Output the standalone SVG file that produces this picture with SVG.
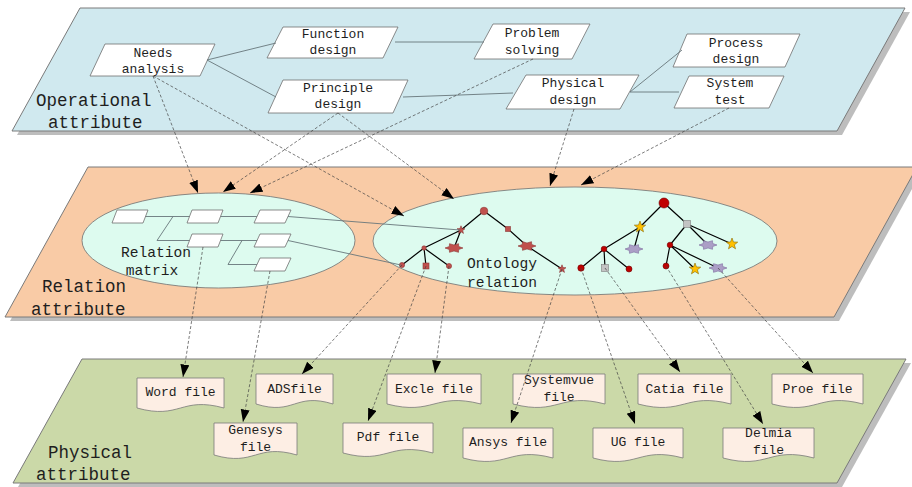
<svg xmlns="http://www.w3.org/2000/svg" xmlns:xlink="http://www.w3.org/1999/xlink" width="912" height="487" viewBox="0 0 912 487">
  <style>
    .shadow { fill: #bdbdbd; }
    .plane { stroke: #7a7a7a; stroke-width: 1; }
    .box { fill: #ffffff; stroke: #6f6f6f; stroke-width: 0.8; }
    .doc { fill: #fdeee4; stroke: #7a7a7a; stroke-width: 0.8; }
    .oval { fill: #ddfbef; stroke: #6f6f6f; stroke-width: 0.8; }
    text { font-family: "Liberation Mono", "DejaVu Sans Mono", monospace; fill: #1e1e1e; }
    .lbl { font-size: 13px; text-anchor: middle; }
    .mid { font-size: 14.6px; text-anchor: middle; }
    .layer { font-size: 17.5px; }
    .link { fill: none; stroke: #68767b; stroke-width: 0.9; }
    .dash { fill: none; stroke: #444; stroke-width: 0.7; stroke-dasharray: 3 2; marker-end: url(#arr); }
    .edge { fill: none; stroke: #000; stroke-width: 1.2; }
    .red1 { fill: #c0504d; stroke: #8c3836; stroke-width: 0.6; }
    .red2 { fill: #c00000; stroke: #6e0000; stroke-width: 0.6; }
    .gold { fill: #ffc000; stroke: #8a6a00; stroke-width: 0.6; }
    .grey { fill: #c3c3c3; stroke: #7f7f7f; stroke-width: 0.6; }
    .lilac { fill: #ab9ec6; stroke: #7d6ca0; stroke-width: 0.6; }
  </style>
  <defs>
    <marker id="arr" markerUnits="userSpaceOnUse" markerWidth="13" markerHeight="10" refX="12.5" refY="4.5" orient="auto">
      <path d="M0,0 L12.5,4.5 L0,9 Z" fill="#000"/>
    </marker>
    <path id="star5" d="M0,-6 L1.47,-2.02 L5.71,-1.85 L2.38,0.77 L3.53,4.85 L0,2.5 L-3.53,4.85 L-2.38,0.77 L-5.71,-1.85 L-1.47,-2.02 Z"/>
    <path id="star6" d="M9,0 L4.68,1.5 L4.5,4.33 L0,3 L-4.5,4.33 L-4.68,1.5 L-9,0 L-4.68,-1.5 L-4.5,-4.33 L0,-3 L4.5,-4.33 L4.68,-1.5 Z"/>
    <path id="star5s" d="M0,-4.2 L1.03,-1.41 L4,-1.3 L1.67,0.54 L2.47,3.4 L0,1.75 L-2.47,3.4 L-1.67,0.54 L-4,-1.3 L-1.03,-1.41 Z"/>
  </defs>

  <!-- operational layer -->
  <g id="layer-operational">
    <polygon class="shadow" points="85,12 910,12 842,135 17,135"/>
    <polygon class="plane" fill="#d0e9ef" points="80,8 905,8 837,131 12,131"/>
    <text class="layer" x="36" y="106">Operational</text>
    <text class="layer" x="48" y="128">attribute</text>
  </g>

  <!-- relation layer -->
  <g id="layer-relation">
    <polygon class="shadow" points="93,171 922,171 839,321 10,321"/>
    <polygon class="plane" fill="#f9cba6" points="88,167 917,167 834,317 5,317"/>
    <text class="layer" x="42" y="292">Relation</text>
    <text class="layer" x="31" y="315">attribute</text>
  </g>

  <!-- physical layer -->
  <g id="layer-physical">
    <polygon class="shadow" points="87,363 911,363 842,487 18,487"/>
    <polygon class="plane" fill="#cbd9a8" points="82,359 906,359 837,483 13,483"/>
    <text class="layer" x="48" y="458">Physical</text>
    <text class="layer" x="36" y="480">attribute</text>
  </g>

  <!-- operational nodes -->
  <g id="needs-analysis">
    <polygon class="box" points="105,44 215,44 200,76 90,76"/>
    <text class="lbl" x="153" y="57">Needs</text>
    <text class="lbl" x="153" y="73">analysis</text>
  </g>
  <g id="function-design">
    <polygon class="box" points="283,27 398,27 383,58 267,58"/>
    <text class="lbl" x="333" y="38">Function</text>
    <text class="lbl" x="333" y="54">design</text>
  </g>
  <g id="principle-design">
    <polygon class="box" points="283,80 408,80 393,113 268,113"/>
    <text class="lbl" x="338" y="92">Principle</text>
    <text class="lbl" x="338" y="108">design</text>
  </g>
  <g id="problem-solving">
    <polygon class="box" points="493,24 590,24 572,59 474,59"/>
    <text class="lbl" x="532" y="37">Problem</text>
    <text class="lbl" x="532" y="54">solving</text>
  </g>
  <g id="physical-design">
    <polygon class="box" points="526,75 639,75 620,109 506,109"/>
    <text class="lbl" x="573" y="87">Physical</text>
    <text class="lbl" x="573" y="104">design</text>
  </g>
  <g id="process-design">
    <polygon class="box" points="687,34 800,34 785,67 673,67"/>
    <text class="lbl" x="736" y="47">Process</text>
    <text class="lbl" x="736" y="63">design</text>
  </g>
  <g id="system-test">
    <polygon class="box" points="689,76 784,76 769,108 674,108"/>
    <text class="lbl" x="730" y="87">System</text>
    <text class="lbl" x="730" y="104">test</text>
  </g>

  <!-- relation matrix -->
  <g id="relation-matrix">
    <ellipse class="oval" cx="218.5" cy="240.5" rx="136.5" ry="47.5"/>
    <path class="link" d="M145,216.5 H190 M220.5,216.5 H257 M173,216.5 L157,240.5 H189.5 M220.5,240.5 H257 M242,240.5 L228,264.5 H257"/>
    <polygon class="box" points="117,210 148,210 143,223 112,223"/>
    <polygon class="box" points="192,210 223,210 218,223 187,223"/>
    <polygon class="box" points="260,210 291,210 285,223 254,223"/>
    <polygon class="box" points="192,234 223,234 218,247 187,247"/>
    <polygon class="box" points="260,234 291,234 285,247 254,247"/>
    <polygon class="box" points="260,258 291,258 285,271 254,271"/>
    <text class="mid" x="156" y="257">Relation</text>
    <text class="mid" x="152" y="275">matrix</text>
  </g>

  <!-- ontology relation -->
  <g id="ontology-relation">
    <ellipse class="oval" cx="575" cy="241" rx="202" ry="54"/>
    <text class="mid" x="502" y="268">Ontology</text>
    <text class="mid" x="502" y="287">relation</text>
    <!-- first tree -->
    <path class="edge" d="M484,211 L461,230 M484,211 L508,229 L527,246 L562,269 M461,230 L424,248 M461,230 L454,248 M424,248 L402,265 M424,248 L426,266 M424,248 L449,266"/>
    <circle class="red1" cx="484" cy="211" r="3.8"/>
    <use href="#star5s" class="red1" x="461" y="230"/>
    <rect class="red1" x="505.5" y="226.5" width="5" height="5"/>
    <use href="#star6" class="red1" x="454" y="248"/>
    <use href="#star6" class="red1" x="527" y="246"/>
    <circle class="red1" cx="424" cy="248" r="2.2"/>
    <circle class="red1" cx="402" cy="265" r="2.6"/>
    <rect class="red1" x="423" y="263" width="6" height="6"/>
    <circle class="red1" cx="449" cy="266" r="2.6"/>
    <use href="#star5s" class="red1" x="562" y="269"/>
    <!-- second tree -->
    <path class="edge" d="M664,203 L640,227 M664,203 L687,224 M640,227 L604,249 M640,227 L634,249 M604,249 L581,268 M604,249 L605,268 M604,249 L629,269 M687,224 L670,245 M687,224 L708,245 M687,224 L732,244 M670,245 L666,266 M670,245 L695,269 M670,245 L718,268"/>
    <circle class="red2" cx="664" cy="203" r="5"/>
    <use href="#star5" class="gold" x="640" y="227"/>
    <rect class="grey" x="683.5" y="220.5" width="7" height="7"/>
    <circle class="red2" cx="604" cy="249" r="2.8"/>
    <use href="#star6" class="lilac" x="634" y="249"/>
    <circle class="red2" cx="670" cy="245" r="2.8"/>
    <use href="#star6" class="lilac" x="708" y="245"/>
    <use href="#star5" class="gold" x="732" y="244"/>
    <circle class="red2" cx="581" cy="268" r="3.2"/>
    <rect class="grey" x="601.5" y="264.5" width="7" height="7"/>
    <circle class="red2" cx="629" cy="269" r="3"/>
    <circle class="red2" cx="666" cy="266" r="3"/>
    <use href="#star5" class="gold" x="695" y="269"/>
    <use href="#star6" class="lilac" x="718" y="268"/>
  </g>

  <!-- file documents -->
  <g id="word-file">
    <path class="doc" d="M137,378 H224 V408 C180.5,396 180.5,420 137,408 Z"/>
    <text class="lbl" x="180.5" y="396">Word file</text>
  </g>
  <g id="ads-file">
    <path class="doc" d="M256,374 H333 V404 C294.5,392 294.5,416 256,404 Z"/>
    <text class="lbl" x="294.5" y="393">ADSfile</text>
  </g>
  <g id="excle-file">
    <path class="doc" d="M387,374 H481 V404 C434,392 434,416 387,404 Z"/>
    <text class="lbl" x="434" y="393">Excle file</text>
  </g>
  <g id="systemvue-file">
    <path class="doc" d="M513,374 H605 V404 C559,392 559,416 513,404 Z"/>
    <text class="lbl" x="559" y="384">Systemvue</text>
    <text class="lbl" x="559" y="401">file</text>
  </g>
  <g id="catia-file">
    <path class="doc" d="M638,374 H731 V404 C684.5,392 684.5,416 638,404 Z"/>
    <text class="lbl" x="684.5" y="393">Catia file</text>
  </g>
  <g id="proe-file">
    <path class="doc" d="M772,374 H863 V404 C817.5,392 817.5,416 772,404 Z"/>
    <text class="lbl" x="817.5" y="393">Proe file</text>
  </g>
  <g id="genesys-file">
    <path class="doc" d="M214,423 H297 V455 C255.5,443 255.5,467 214,455 Z"/>
    <text class="lbl" x="255.5" y="434">Genesys</text>
    <text class="lbl" x="255.5" y="451">file</text>
  </g>
  <g id="pdf-file">
    <path class="doc" d="M343,423 H433 V453 C388,441 388,465 343,453 Z"/>
    <text class="lbl" x="388" y="441">Pdf file</text>
  </g>
  <g id="ansys-file">
    <path class="doc" d="M463,428 H553 V458 C508,446 508,470 463,458 Z"/>
    <text class="lbl" x="508" y="446">Ansys file</text>
  </g>
  <g id="ug-file">
    <path class="doc" d="M593,428 H683 V458 C638,446 638,470 593,458 Z"/>
    <text class="lbl" x="638" y="446">UG file</text>
  </g>
  <g id="delmia-file">
    <path class="doc" d="M723,428 H814 V458 C768.5,446 768.5,470 723,458 Z"/>
    <text class="lbl" x="768.5" y="437">Delmia</text>
    <text class="lbl" x="768.5" y="454">file</text>
  </g>

  <!-- connectors -->
  <g id="connectors">
    <!-- operational flow -->
    <path class="link" d="M207,60 L276,43"/>
    <path class="link" d="M207,60 L276,97"/>
    <path class="link" d="M395,42 H484"/>
    <path class="link" d="M403,97 L460,95 L513,93"/>
    <path class="link" d="M630,92 L682,50"/>
    <path class="link" d="M630,92 H679"/>
    <!-- matrix to ontology -->
    <path class="link" d="M288,216.5 L460,230"/>
    <path class="link" d="M288,240.5 L401,265"/>
    <!-- operational to relation -->
    <path class="dash" d="M153,76 L198,193"/>
    <path class="dash" d="M153,76 L404,216"/>
    <path class="dash" d="M338,113 L223,192"/>
    <path class="dash" d="M338,113 L454,199"/>
    <path class="dash" d="M533,59 L250,193"/>
    <path class="dash" d="M574,109 L550,186"/>
    <path class="dash" d="M729,108 L581,185"/>
    <!-- relation to physical -->
    <path class="dash" d="M203,247 L183,377"/>
    <path class="dash" d="M270,271 L243,422"/>
    <path class="dash" d="M402,265 L302,374"/>
    <path class="dash" d="M426,266 L368,421"/>
    <path class="dash" d="M449,266 L435,373"/>
    <path class="dash" d="M562,269 L511,423"/>
    <path class="dash" d="M581,268 L635,424"/>
    <path class="dash" d="M605,268 L680,372"/>
    <path class="dash" d="M666,266 L763,424"/>
    <path class="dash" d="M718,268 L813,373"/>
  </g>
</svg>
